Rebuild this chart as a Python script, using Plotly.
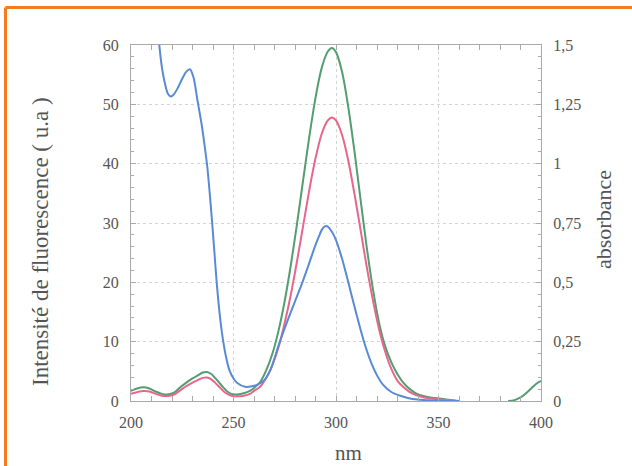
import plotly.graph_objects as go

# Absorbance (blue, right axis)
abs_nm = [211, 212, 213, 213.8, 215, 216.5, 218, 219.5, 221, 223, 225, 227, 228.8, 230.5, 232.5,
          234.5, 236, 237.2, 238.4, 239.6, 240.7, 241.8, 243.3, 245, 246.5, 248, 250, 252, 255.6,
          259, 262, 265, 268, 270, 272, 276, 280, 283.2, 286.5, 289.5, 291.5, 293, 294.5, 296,
          298, 300, 303, 306, 309, 312, 314, 317, 320, 323, 327, 331, 335, 340, 345, 350, 355, 360]
abs_val = [1.80, 1.68, 1.57, 1.50, 1.41, 1.34, 1.295, 1.283, 1.293, 1.322, 1.358, 1.388, 1.398,
           1.363, 1.263, 1.163, 1.07, 0.988, 0.875, 0.75, 0.625, 0.50, 0.363, 0.25, 0.18, 0.13,
           0.095, 0.075, 0.06, 0.062, 0.07, 0.088, 0.13, 0.18, 0.235, 0.33, 0.42, 0.49, 0.57,
           0.645, 0.69, 0.72, 0.736, 0.735, 0.713, 0.678, 0.598, 0.50, 0.398, 0.30, 0.24, 0.165,
           0.108, 0.068, 0.038, 0.023, 0.013, 0.006, 0.003, 0.001, 0.0, 0.0]

# Fluorescence (left axis)
fl_nm = [200, 203, 206, 209, 212, 215, 218, 221, 224, 227, 230, 233, 235, 237, 239, 241, 243,
         245, 247, 249, 252, 255, 258, 260, 263, 266, 269, 272, 275, 278, 281, 284, 287, 290,
         293, 296, 298, 300, 303, 306, 309, 312, 315, 318, 321, 324, 327, 330, 333, 336, 339,
         343, 348, 353, 358, 360]
green_val = [1.7, 2.1, 2.3, 2.1, 1.6, 1.2, 1.1, 1.4, 2.3, 3.1, 3.8, 4.4, 4.8, 4.9, 4.6, 3.9, 3.1,
             2.3, 1.6, 1.2, 1.1, 1.3, 1.7, 2.2, 3.2, 5.2, 8.0, 11.9, 16.9, 23.0, 29.9, 37.3, 44.6,
             51.1, 56.1, 58.9, 59.5, 58.8, 55.4, 49.5, 42.1, 33.9, 25.9, 18.9, 13.2, 9.2, 6.5,
             4.5, 3.0, 2.0, 1.3, 0.8, 0.5, 0.3, 0.1, 0.0]
pink_val = [1.2, 1.5, 1.7, 1.6, 1.2, 0.9, 0.85, 1.1, 1.8, 2.5, 3.1, 3.6, 3.9, 3.95, 3.7, 3.1, 2.4,
            1.7, 1.2, 0.9, 0.8, 0.9, 1.2, 1.7, 2.4, 3.9, 6.1, 9.1, 13.2, 18.0, 23.6, 29.6, 35.6,
            40.9, 45.0, 47.3, 47.8, 47.3, 44.8, 40.5, 34.9, 28.8, 22.6, 17.0, 12.1, 8.3, 5.4,
            3.4, 2.3, 1.5, 1.0, 0.6, 0.35, 0.2, 0.05, 0.0]

# green tail at long wavelength
tail_nm = [384, 387, 390, 393, 396, 398, 400]
tail_val = [0.0, 0.15, 0.6, 1.4, 2.4, 3.0, 3.4]

x_ticks = [200, 250, 300, 350, 400]
y_ticks = [0, 10, 20, 30, 40, 50, 60]
y2_ticks = [0, 0.25, 0.5, 0.75, 1, 1.25, 1.5]
y2_labels = ["0", "0,25", "0,5", "0,75", "1", "1,25", "1,5"]

BLUE = "rgb(88,138,215)"
PINK = "rgb(232,102,140)"
GREEN = "rgb(82,158,112)"
FONT = "Liberation Serif"
TXT = "#555555"
AX = "#aaaaaa"
GRID = "#d4d4d4"

fig = go.Figure()
fig.add_trace(go.Scatter(x=fl_nm, y=green_val, mode="lines",
                         line=dict(color=GREEN, width=2, shape="spline", smoothing=0.8)))
fig.add_trace(go.Scatter(x=tail_nm, y=tail_val, mode="lines",
                         line=dict(color=GREEN, width=2, shape="spline", smoothing=0.8)))
fig.add_trace(go.Scatter(x=fl_nm, y=pink_val, mode="lines",
                         line=dict(color=PINK, width=2, shape="spline", smoothing=0.8)))
fig.add_trace(go.Scatter(x=abs_nm, y=abs_val, mode="lines", yaxis="y2",
                         line=dict(color=BLUE, width=2, shape="spline", smoothing=0.8)))

tickfont = dict(family=FONT, size=16, color=TXT)
fig.update_layout(
    width=632, height=466,
    margin=dict(l=131, r=91, t=45, b=65),
    paper_bgcolor="white", plot_bgcolor="white",
    showlegend=False,
    font=dict(family=FONT, color=TXT, size=16),
    xaxis=dict(range=[200, 400], tickvals=x_ticks, ticks="inside", ticklen=5, tickcolor=AX,
               showline=True, linecolor=AX, linewidth=1, mirror="allticks",
               showgrid=True, gridcolor=GRID, griddash="dot", gridwidth=1,
               zeroline=False, tickfont=tickfont, ticklabelstandoff=7,
               minor=dict(dtick=10, ticks="inside", ticklen=3, tickcolor=AX, showgrid=False)),
    yaxis=dict(range=[0, 60], tickvals=y_ticks, ticks="inside", ticklen=5, tickcolor=AX,
               showline=True, linecolor=AX, linewidth=1,
               showgrid=True, gridcolor=GRID, griddash="dot", gridwidth=1,
               zeroline=False, tickfont=tickfont, ticklabelstandoff=8,
               minor=dict(dtick=2, ticks="inside", ticklen=3, tickcolor=AX, showgrid=False)),
    yaxis2=dict(range=[0, 1.5], overlaying="y", side="right", tickvals=y2_ticks,
                ticktext=y2_labels, ticks="inside", ticklen=5, tickcolor=AX,
                showline=True, linecolor=AX, linewidth=1, showgrid=False, zeroline=False,
                tickfont=tickfont, ticklabelstandoff=8,
                minor=dict(dtick=0.05, ticks="inside", ticklen=3, tickcolor=AX, showgrid=False)),
)

fig.add_annotation(text="Intensité de fluorescence ( u.a )", xref="paper", yref="paper",
                   x=(40 - 131) / 410, y=(401 - 242) / 356, textangle=-90, showarrow=False,
                   font=dict(family=FONT, size=23, color=TXT), xanchor="center", yanchor="middle")
fig.add_annotation(text="absorbance", xref="paper", yref="paper",
                   x=(603 - 131) / 410, y=(401 - 220) / 356, textangle=-90, showarrow=False,
                   font=dict(family=FONT, size=22, color=TXT), xanchor="center", yanchor="middle")
fig.add_annotation(text="nm", xref="paper", yref="paper",
                   x=(348 - 131) / 410, y=(401 - 453) / 356, showarrow=False,
                   font=dict(family=FONT, size=21, color=TXT), xanchor="center", yanchor="middle")

# orange frame (top and left edges)
fig.add_shape(type="line", xref="paper", yref="paper", x0=(5.5 - 131) / 410, x1=(640 - 131) / 410,
              y0=(401 - 7.5) / 356, y1=(401 - 7.5) / 356, line=dict(color="#F47B20", width=3))
fig.add_shape(type="line", xref="paper", yref="paper", x0=(5.5 - 131) / 410, x1=(5.5 - 131) / 410,
              y0=(401 - 7.5) / 356, y1=(401 - 480) / 356, line=dict(color="#F47B20", width=3))

fig.write_html("out.html")
